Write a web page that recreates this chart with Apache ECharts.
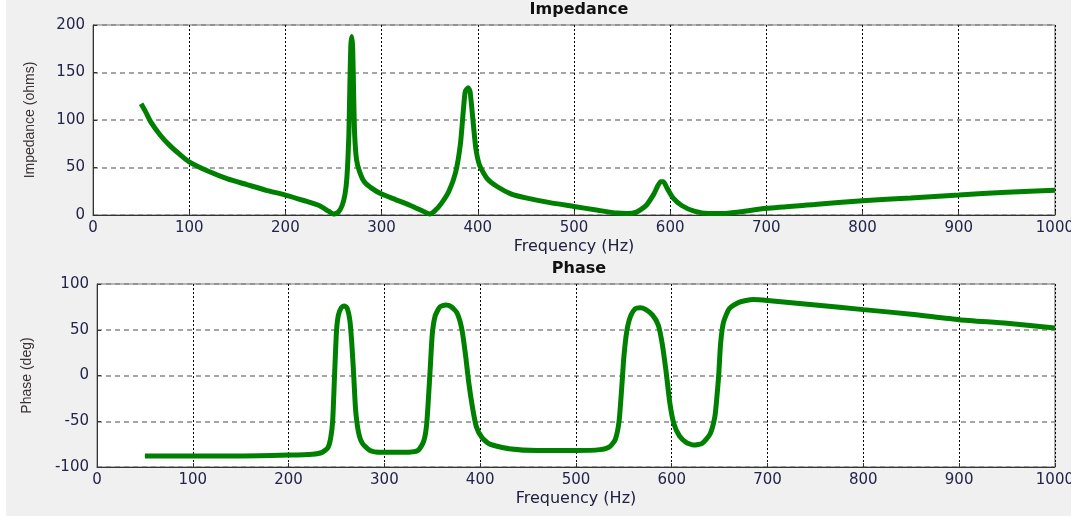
<!DOCTYPE html>
<html>
<head>
<meta charset="utf-8">
<script src="https://cdn.jsdelivr.net/npm/echarts@6/dist/echarts.min.js"></script>
<style>
  html, body { margin: 0; padding: 0; background: #ffffff; }
  #wrap { position: relative; width: 1077px; height: 518px; overflow: hidden; }
  #bg { position: absolute; left: 6px; top: 0; width: 1065px; height: 516px; background: #f0f0f0; }
  #chart { position: absolute; left: 0; top: 0; width: 1077px; height: 518px; }
  #edge { position: absolute; left: 1071px; top: 0; width: 6px; height: 518px; background: #ffffff; }
</style>
</head>
<body>
<div id="wrap">
  <div id="bg"></div>
  <div id="chart"></div>
  <div id="edge"></div>
</div>
<script>
// impedance magnitude vs frequency
const impFreq = [50, 55, 60, 70, 80, 90, 100, 120, 140, 160, 180, 200, 220, 235, 245, 250, 255, 259, 262, 264,
  266, 267, 268, 269, 270, 271, 272, 274, 277, 282, 290, 300, 315, 330, 345, 350, 355, 362, 370, 377,
  382, 385, 387, 390, 392, 395, 398, 402, 410, 420, 435, 450, 475, 500, 525, 545, 555, 565, 575, 583,
  590, 593, 597, 603, 612, 625, 640, 655, 670, 700, 750, 800, 850, 900, 950, 1000]
const impVal = [117, 108, 98, 84, 73, 64, 56, 46, 38, 32, 26, 21, 15, 10, 4, 1, 3, 10, 22, 40,
  85, 135, 178, 188, 175, 125, 85, 58, 46, 35, 28, 22, 16, 10, 3, 1, 4, 12, 25, 45,
  75, 110, 130, 134, 130, 100, 70, 52, 38, 30, 22, 18, 13, 9, 5, 2, 1.5, 3, 10, 22,
  35, 35, 28, 18, 10, 4, 1.5, 1.5, 3, 7, 11, 15, 18, 21, 24, 26]

// phase vs frequency
const phFreq = [50, 100, 150, 200, 225, 235, 241, 244, 246, 248, 250, 252, 255, 258, 261, 264, 266, 268, 270, 273,
  277, 285, 295, 320, 335, 341, 344, 346, 348, 350, 353, 358, 364, 370, 376, 381, 385, 388, 392, 396,
  402, 410, 430, 460, 500, 525, 535, 541, 545, 548, 550, 553, 557, 562, 567, 573, 580, 586, 590, 594,
  598, 602, 608, 615, 623, 632, 640, 645, 647, 649, 651, 654, 660, 670, 685, 700, 750, 800, 850, 900,
  950, 1000]
const phVal = [-88, -88, -88, -87, -86, -84, -79, -68, -50, 0, 48, 66, 74, 76, 74, 60, 35, 0, -38, -62,
  -74, -82, -84, -84, -82, -72, -55, -25, 10, 45, 65, 75, 77, 75, 68, 50, 20, -7, -35, -56,
  -68, -75, -80, -82, -82, -81, -78, -70, -50, -10, 20, 48, 65, 73, 74, 72, 66, 55, 35, 5,
  -30, -52, -66, -73, -76, -74, -64, -45, -25, 0, 35, 58, 73, 80, 83, 82, 77, 72, 67, 61,
  57, 52]

const freqTicks = [0, 100, 200, 300, 400, 500, 600, 700, 800, 900, 1000]
const impTicks = [0, 50, 100, 150, 200]
const phTicks = [-100, -50, 0, 50, 100]

const tickColor = '#24244a'
const green = '#008000'

const xAxisBase = (gridIndex) => ({
  type: 'value',
  gridIndex,
  min: freqTicks[0],
  max: freqTicks[freqTicks.length - 1],
  interval: 100,
  name: 'Frequency (Hz)',
  nameLocation: 'middle',
  nameGap: 24,
  nameTextStyle: { fontFamily: 'DejaVu Sans', fontSize: 16, color: '#202040' },
  axisLine: { show: true, onZero: false, lineStyle: { color: '#333', width: 1 } },
  axisTick: { show: true, inside: true, length: 4, lineStyle: { color: '#333' } },
  axisLabel: { fontFamily: 'DejaVu Sans', fontSize: 15, color: tickColor, margin: 6,
    formatter: (v) => String(v) },
  splitLine: { show: true, lineStyle: { color: '#000', type: [2, 2], width: 1 } }
})

const yAxisBase = (gridIndex, ticks, name, gap) => ({
  type: 'value',
  gridIndex,
  min: ticks[0],
  max: ticks[ticks.length - 1],
  interval: 50,
  name,
  nameLocation: 'middle',
  nameGap: gap,
  nameTextStyle: { fontFamily: 'Liberation Sans', fontSize: 14, color: '#3a3232' },
  axisLine: { show: true, onZero: false, lineStyle: { color: '#333', width: 1 } },
  axisTick: { show: true, inside: true, length: 4, lineStyle: { color: '#333' } },
  axisLabel: { fontFamily: 'DejaVu Sans', fontSize: 15, color: tickColor, margin: 8,
    formatter: (v) => String(v) },
  splitLine: { show: true, lineStyle: { color: '#888', type: [5, 4], width: 1.5 } }
})

const chart = echarts.init(document.getElementById('chart'))
chart.setOption({
  animation: false,
  backgroundColor: 'transparent',
  title: [
    { text: 'Impedance', left: 574, top: -3, textAlign: 'center',
      textStyle: { fontFamily: 'DejaVu Sans', fontWeight: 'bold', fontSize: 16, color: '#111' } },
    { text: 'Phase', left: 574, top: 256, textAlign: 'center',
      textStyle: { fontFamily: 'DejaVu Sans', fontWeight: 'bold', fontSize: 16, color: '#111' } }
  ],
  grid: [
    { left: 93, top: 25, width: 963, height: 190, show: true, backgroundColor: '#fff', borderColor: '#777', borderWidth: 1 },
    { left: 97, top: 284, width: 960, height: 183, show: true, backgroundColor: '#fff', borderColor: '#777', borderWidth: 1 }
  ],
  xAxis: [xAxisBase(0), xAxisBase(1)],
  yAxis: [
    yAxisBase(0, impTicks, 'Impedance (ohms)', 56),
    yAxisBase(1, phTicks, 'Phase (deg)', 63)
  ],
  series: [
    {
      type: 'line', xAxisIndex: 0, yAxisIndex: 0,
      data: impFreq.map((f, i) => [f, impVal[i]]),
      showSymbol: false, smooth: 0.2,
      lineStyle: { color: green, width: 5 }
    },
    {
      type: 'line', xAxisIndex: 1, yAxisIndex: 1,
      data: phFreq.map((f, i) => [f, phVal[i]]),
      showSymbol: false, smooth: 0.2,
      lineStyle: { color: green, width: 5 }
    }
  ]
})
</script>
</body>
</html>
